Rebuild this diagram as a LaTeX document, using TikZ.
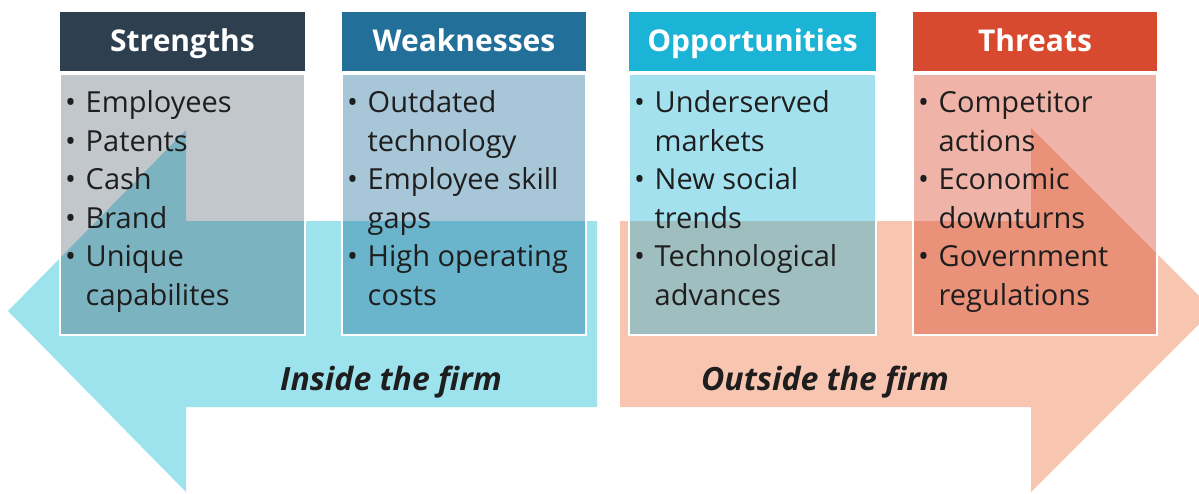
\documentclass[tikz,border=0pt]{standalone}
\usepackage{fontspec}
\setmainfont{Open Sans}
\definecolor{colS}{HTML}{2E3F50}
\definecolor{colW}{HTML}{22709A}
\definecolor{colO}{HTML}{1BB4D6}
\definecolor{colT}{HTML}{D84A2F}
\definecolor{arrIn}{HTML}{9DE3EE}
\definecolor{arrOut}{HTML}{F8C5B1}
\definecolor{txt}{HTML}{1E1E1E}
\tikzset{
  hdr/.style={rectangle, inner sep=0pt, minimum height=59pt, text=white,
    font=\bfseries\fontsize{30}{36}\selectfont, text height=22pt, text depth=3pt},
  bodybox/.style={rectangle, inner sep=0pt, minimum height=261pt, draw=white, line width=1.5pt},
  itemtxt/.style={anchor=base west, inner sep=0pt, text=txt, font=\fontsize{29}{35}\selectfont},
  bul/.style={anchor=base, inner sep=0pt, text=txt, font=\fontsize{29}{35}\selectfont},
  firm/.style={anchor=base, inner sep=0pt, text=txt, font=\bfseries\itshape\fontsize{32}{38}\selectfont},
}
\newcommand{\swotcol}[7]{% name, left, width, color, opacity, title, items
  \node[hdr, fill=#4, minimum width=#3pt] (#1head) at ({#2+#3/2},41.5) {#6};
  \node[bodybox, fill=#4, fill opacity=#5, minimum width=#3pt] (#1body) at ({#2+#3/2},204.5) {};
  \foreach \b/\t [count=\i] in {#7}{
    \ifnum\b=1 \node[bul] (#1-b\i) at ({#2+10.5},{112.5+(\i-1)*38.6}) {•};\fi
    \node[itemtxt] (#1-t\i) at ({#2+25.5},{112.5+(\i-1)*38.6}) {\t};
  }
}
\begin{document}
\begin{tikzpicture}[x=1pt,y=-1pt]
\useasboundingbox (0,0) rectangle (1199,493);
\clip (0,0) rectangle (1199,493);
% arrows
\fill[arrIn] (597,221) -- (186,221) -- (186,130) -- (8,311) -- (186,492) -- (186,407) -- (597,407) -- cycle;
\fill[arrOut] (620,221) -- (1031,221) -- (1031,128) -- (1213,310) -- (1031,492) -- (1031,407) -- (620,407) -- cycle;
% columns
\swotcol{S}{60}{245}{colS}{0.29}{Strengths}{1/Employees,1/Patents,1/Cash,1/Brand,1/Unique,0/capabilites}
\swotcol{W}{342}{244}{colW}{0.40}{Weaknesses}{1/Outdated,0/technology,1/Employee skill,0/gaps,1/High operating,0/costs}
\swotcol{O}{629}{247}{colO}{0.40}{Opportunities}{1/Underserved,0/markets,1/New social,0/trends,1/Technological,0/advances}
\swotcol{T}{913}{244}{colT}{0.42}{Threats}{1/Competitor,0/actions,1/Economic,0/downturns,1/Government,0/regulations}
% labels
\node[firm] (inside) at (391,390) {Inside the firm};
\node[firm] (outside) at (825,390) {Outside the firm};
\end{tikzpicture}
\end{document}
